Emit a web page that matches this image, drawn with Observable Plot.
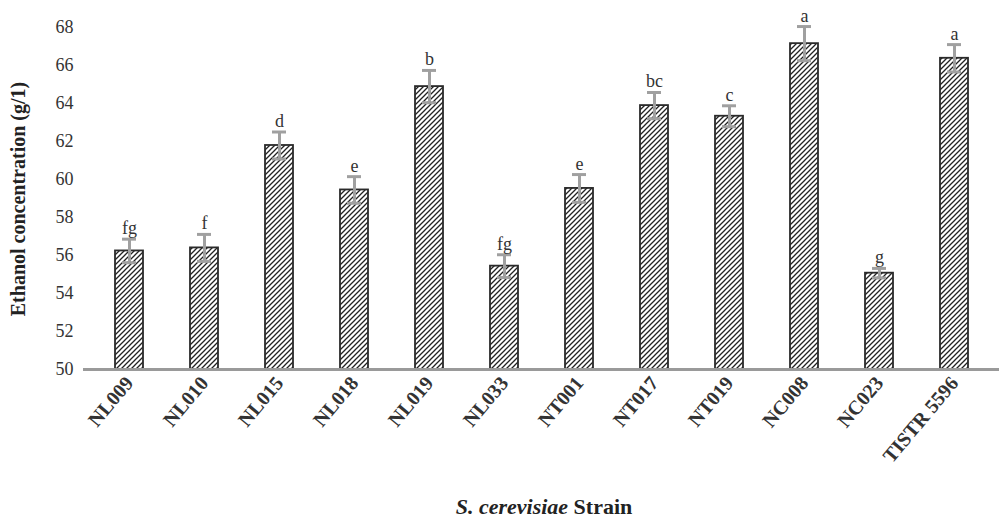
<!DOCTYPE html>
<html><head><meta charset="utf-8">
<script src="https://cdn.jsdelivr.net/npm/d3@7"></script>
<script src="https://cdn.jsdelivr.net/npm/@observablehq/plot@0.6"></script>
<style>
body{margin:0;background:#fff}
</style></head><body><div id="chart"></div>
<script>
const strains = ["NL009","NL010","NL015","NL018","NL019","NL033","NT001","NT017","NT019","NC008","NC023","TISTR 5596"];
const ethanol = [56.24, 56.40, 61.79, 59.45, 64.89, 55.44, 59.53, 63.89, 63.33, 67.15, 55.07, 66.38];
const errors  = [0.62, 0.71, 0.71, 0.70, 0.85, 0.60, 0.73, 0.69, 0.55, 0.90, 0.25, 0.72];
const letters = ["fg","f","d","e","b","fg","e","bc","c","a","g","a"];
const yTicks  = [50,52,54,56,58,60,62,64,66,68];

const data = strains.map((s,i)=>({strain:s, value:ethanol[i], err:errors[i], letter:letters[i]}));

const chart = Plot.plot({
  width: 999, height: 521,
  marginLeft: 83, marginRight: 0, marginTop: 27, marginBottom: 152,
  style: {fontFamily: "Liberation Serif", background: "#fff", color: "#333", overflow: "visible"},
  x: {domain: strains, range: [87, 995], paddingInner: 0.63, paddingOuter: 0.315, label: null},
  y: {domain: [50, 68], label: null},
  marks: [
    Plot.barY(data, {x: "strain", y1: 50, y2: "value", fill: "url(#hatch)", stroke: "#2a2a2a", strokeWidth: 1.8}),
    Plot.ruleY([50], {stroke: "#9a9a9a", strokeWidth: 3}),
    Plot.ruleX(data, {x: "strain", y1: d => d.value - d.err, y2: d => d.value + d.err, stroke: "#a0a0a0", strokeWidth: 3}),
    Plot.tickY(data, {x: "strain", y: d => d.value + d.err, insetLeft: 7, insetRight: 7, stroke: "#a0a0a0", strokeWidth: 3}),
    Plot.tickY(data, {x: "strain", y: d => d.value - d.err, insetLeft: 7, insetRight: 7, stroke: "#a0a0a0", strokeWidth: 3}),
    Plot.text(data, {x: "strain", y: d => d.value + d.err, text: "letter", dy: -5, lineAnchor: "bottom", fontSize: 18, fill: "#333"}),
    Plot.axisY({ticks: yTicks, tickSize: 0, tickPadding: 10, fontSize: 18, label: null}),
    Plot.axisX({tickSize: 0, tickRotate: -50, tickPadding: 10, fontSize: 20, fontWeight: "bold", label: null})
  ]
});

const svg = d3.select(chart);
const defs = svg.insert("defs", ":first-child");
const pat = defs.append("pattern").attr("id", "hatch").attr("patternUnits", "userSpaceOnUse").attr("width", 5).attr("height", 5);
pat.append("rect").attr("width", 5).attr("height", 5).attr("fill", "#fff");
pat.append("path").attr("d", "M-1,1 L1,-1 M0,5 L5,0 M4,6 L6,4").attr("stroke", "#222").attr("stroke-width", 1.3);

svg.append("text")
  .attr("transform", "translate(20,199) rotate(-90)")
  .attr("text-anchor", "middle").attr("dominant-baseline", "middle")
  .attr("font-family", "Liberation Serif").attr("font-weight", "bold").attr("font-size", 20).attr("fill", "#222")
  .text("Ethanol concentration (g/1)");

const xt = svg.append("text")
  .attr("x", 544).attr("y", 514).attr("text-anchor", "middle")
  .attr("font-family", "Liberation Serif").attr("font-weight", "bold").attr("font-size", 22).attr("fill", "#222");
xt.append("tspan").attr("font-style", "italic").text("S. cerevisiae");
xt.append("tspan").text(" Strain");

document.getElementById("chart").appendChild(chart);
</script></body></html>
